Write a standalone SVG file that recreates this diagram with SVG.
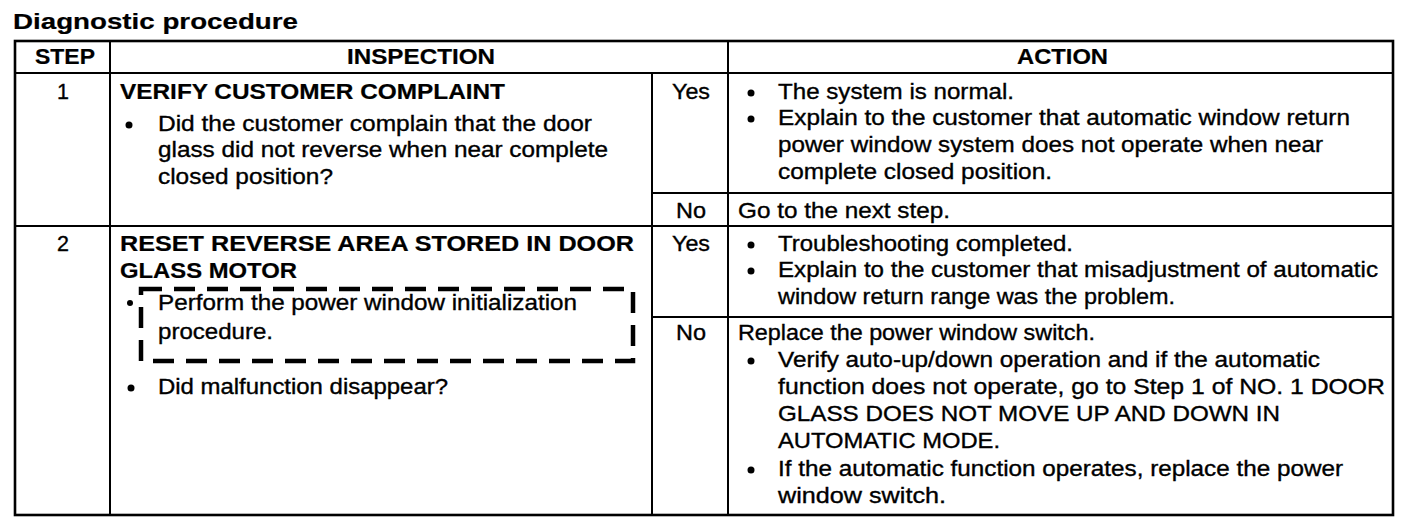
<svg xmlns="http://www.w3.org/2000/svg" width="1408" height="526" viewBox="0 0 1408 526">
<style>
  text { font-family: "Liberation Sans", Arial, sans-serif; font-size: 21.5px; fill: #000; stroke: #000; stroke-width: 0.35; }
  .b { font-weight: bold; stroke-width: 0.2; }
  .title { font-size: 22px; font-weight: bold; stroke-width: 0.2; }
  .line { stroke: #000; stroke-width: 2; fill: none; }
  .outer { stroke: #000; stroke-width: 2.6; fill: none; }
  .dash { stroke: #000; stroke-width: 4.5; fill: none; stroke-dasharray: 21 12; }
  .dot { fill: #000; }
</style>
<rect width="1408" height="526" fill="#fff"/>

<g id="title">
  <text class="title" x="13" y="29" textLength="285" lengthAdjust="spacingAndGlyphs">Diagnostic procedure</text>
</g>

<g id="grid">
  <rect class="outer" x="15" y="41" width="1378" height="474"/>
  <line class="line" x1="15" y1="73" x2="1393" y2="73"/>
  <line class="line" x1="15" y1="226" x2="1393" y2="226"/>
  <line class="line" x1="110" y1="41" x2="110" y2="515"/>
  <line class="line" x1="652" y1="73" x2="652" y2="515"/>
  <line class="line" x1="728" y1="41" x2="728" y2="515"/>
  <line class="line" x1="652" y1="193" x2="1393" y2="193"/>
  <line class="line" x1="652" y1="317" x2="1393" y2="317"/>
</g>

<g id="header">
  <text class="b" x="35" y="64" textLength="60" lengthAdjust="spacingAndGlyphs">STEP</text>
  <text class="b" x="347" y="64" textLength="148" lengthAdjust="spacingAndGlyphs">INSPECTION</text>
  <text class="b" x="1017" y="64" textLength="91" lengthAdjust="spacingAndGlyphs">ACTION</text>
</g>

<g id="step1">
  <text x="57" y="99">1</text>
  <text class="b" x="120" y="99" textLength="385" lengthAdjust="spacingAndGlyphs">VERIFY CUSTOMER COMPLAINT</text>
  <circle class="dot" cx="129" cy="125" r="3.5"/>
  <text x="158" y="131" textLength="434" lengthAdjust="spacingAndGlyphs">Did the customer complain that the door</text>
  <text x="158" y="157" textLength="450" lengthAdjust="spacingAndGlyphs">glass did not reverse when near complete</text>
  <text x="158" y="184" textLength="175" lengthAdjust="spacingAndGlyphs">closed position?</text>
</g>

<g id="step1-yes">
  <text x="672" y="99" textLength="38" lengthAdjust="spacingAndGlyphs">Yes</text>
  <circle class="dot" cx="751" cy="93" r="3.5"/>
  <text x="778" y="99" textLength="236" lengthAdjust="spacingAndGlyphs">The system is normal.</text>
  <circle class="dot" cx="751" cy="119" r="3.5"/>
  <text x="778" y="125" textLength="572" lengthAdjust="spacingAndGlyphs">Explain to the customer that automatic window return</text>
  <text x="778" y="152" textLength="545" lengthAdjust="spacingAndGlyphs">power window system does not operate when near</text>
  <text x="778" y="179" textLength="274" lengthAdjust="spacingAndGlyphs">complete closed position.</text>
</g>

<g id="step1-no">
  <text x="676" y="218" textLength="30" lengthAdjust="spacingAndGlyphs">No</text>
  <text x="738" y="218" textLength="212" lengthAdjust="spacingAndGlyphs">Go to the next step.</text>
</g>

<g id="step2">
  <text x="57" y="251">2</text>
  <text class="b" x="120" y="251" textLength="514" lengthAdjust="spacingAndGlyphs">RESET REVERSE AREA STORED IN DOOR</text>
  <text class="b" x="120" y="278" textLength="177" lengthAdjust="spacingAndGlyphs">GLASS MOTOR</text>
  <rect class="dash" x="141" y="289" width="492" height="72"/>
  <circle class="dot" cx="130" cy="303" r="3"/>
  <text x="158" y="310" textLength="419" lengthAdjust="spacingAndGlyphs">Perform the power window initialization</text>
  <text x="158" y="339" textLength="115" lengthAdjust="spacingAndGlyphs">procedure.</text>
  <circle class="dot" cx="131" cy="388" r="3.5"/>
  <text x="158" y="394" textLength="290" lengthAdjust="spacingAndGlyphs">Did malfunction disappear?</text>
</g>

<g id="step2-yes">
  <text x="672" y="251" textLength="38" lengthAdjust="spacingAndGlyphs">Yes</text>
  <circle class="dot" cx="751" cy="245" r="3.5"/>
  <text x="778" y="251" textLength="295" lengthAdjust="spacingAndGlyphs">Troubleshooting completed.</text>
  <circle class="dot" cx="751" cy="271" r="3.5"/>
  <text x="778" y="277" textLength="600" lengthAdjust="spacingAndGlyphs">Explain to the customer that misadjustment of automatic</text>
  <text x="778" y="304" textLength="397" lengthAdjust="spacingAndGlyphs">window return range was the problem.</text>
</g>

<g id="step2-no">
  <text x="676" y="340" textLength="30" lengthAdjust="spacingAndGlyphs">No</text>
  <text x="738" y="340" textLength="357" lengthAdjust="spacingAndGlyphs">Replace the power window switch.</text>
  <circle class="dot" cx="751" cy="361" r="3.5"/>
  <text x="778" y="367" textLength="542" lengthAdjust="spacingAndGlyphs">Verify auto-up/down operation and if the automatic</text>
  <text x="778" y="394" textLength="607" lengthAdjust="spacingAndGlyphs">function does not operate, go to Step 1 of NO. 1 DOOR</text>
  <text x="778" y="421" textLength="502" lengthAdjust="spacingAndGlyphs">GLASS DOES NOT MOVE UP AND DOWN IN</text>
  <text x="778" y="448" textLength="222" lengthAdjust="spacingAndGlyphs">AUTOMATIC MODE.</text>
  <circle class="dot" cx="751" cy="470" r="3.5"/>
  <text x="778" y="476" textLength="565" lengthAdjust="spacingAndGlyphs">If the automatic function operates, replace the power</text>
  <text x="778" y="503" textLength="168" lengthAdjust="spacingAndGlyphs">window switch.</text>
</g>
</svg>
